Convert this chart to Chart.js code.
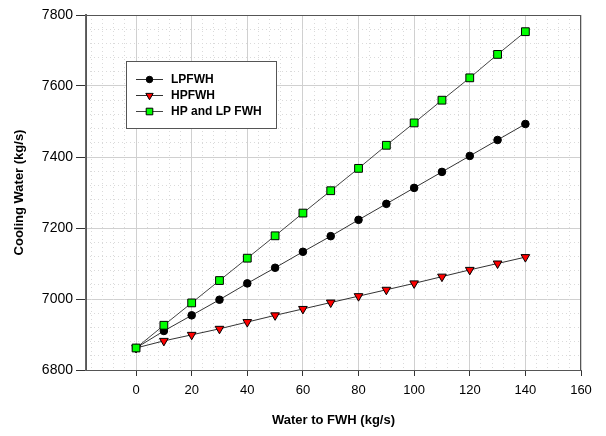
<!DOCTYPE html>
<html>
<head>
<meta charset="utf-8">
<script src="https://cdn.jsdelivr.net/npm/chart.js@4"></script>
<style>
  body { margin: 0; background: #fff; }
  #wrap { width: 606px; height: 436px; }
</style>
</head>
<body>
<div id="wrap"><canvas id="myChart" width="606" height="436"></canvas></div>
<script>
// values
const waterFWH = [0, 10, 20, 30, 40, 50, 60, 70, 80, 90, 100, 110, 120, 130, 140];
const lpfwh   = [6862, 6910, 6954, 6998, 7044, 7088, 7133, 7177, 7223, 7268, 7313, 7358, 7403, 7448, 7493];
const hpfwh   = [6862, 6882, 6899, 6916, 6935, 6954, 6972, 6990, 7008, 7026, 7044, 7063, 7082, 7100, 7118];
const hpAndLp = [6862, 6926, 6989, 7052, 7115, 7178, 7242, 7305, 7368, 7433, 7496, 7560, 7623, 7689, 7753];

const xTicks = [0, 20, 40, 60, 80, 100, 120, 140, 160];
const yTicks = [6800, 7000, 7200, 7400, 7600, 7800];

function toPoints(ys) {
    return waterFWH.map((x, i) => ({ x: x, y: ys[i] }));
}

function minorTicks(from, to, step, major) {
    let out = [];
    for (let v = from; v <= to; v += step) {
        if (v % major !== 0) out.push({ value: v });
    }
    return out;
}

const frame = {
    id: 'frame',
    beforeDatasetsDraw(chart) {
        const a = chart.chartArea;
        const ctx = chart.ctx;
        ctx.save();
        ctx.strokeStyle = '#555';
        ctx.lineWidth = 1;
        ctx.strokeRect(a.left + 0.5, a.top + 0.5, a.right - a.left - 1, a.bottom - a.top);
        ctx.restore();
    }
};

const boxLegend = {
    id: 'boxLegend',
    afterDraw(chart) {
        const ctx = chart.ctx;
        const a = chart.chartArea;
        const bx = a.left + 40, by = a.top + 46, bw = 150, bh = 67;
        ctx.save();
        ctx.fillStyle = '#fff';
        ctx.fillRect(bx, by, bw, bh);
        ctx.strokeStyle = '#555';
        ctx.lineWidth = 1;
        ctx.strokeRect(bx + 0.5, by + 0.5, bw, bh);
        ctx.font = 'bold 12px "Liberation Sans", Arial, sans-serif';
        ctx.textBaseline = 'middle';
        chart.data.datasets.forEach((ds, i) => {
            const y = by + 18 + i * 16;
            ctx.strokeStyle = ds.borderColor;
            ctx.lineWidth = 1;
            ctx.beginPath();
            ctx.moveTo(bx + 10, y + 0.5);
            ctx.lineTo(bx + 37, y + 0.5);
            ctx.stroke();
            ctx.fillStyle = ds.pointBackgroundColor;
            ctx.strokeStyle = ds.pointBorderColor;
            Chart.helpers.drawPoint(ctx, {
                pointStyle: ds.pointStyle,
                rotation: ds.pointRotation || 0,
                radius: ds.pointRadius * 0.85,
                borderWidth: 1
            }, bx + 23.5, y + 0.5);
            ctx.fillStyle = '#000';
            ctx.fillText(ds.label, bx + 45, y + 1);
        });
        ctx.restore();
    }
};

document.addEventListener('DOMContentLoaded', function() {
    const ctx = document.getElementById('myChart').getContext('2d');

    new Chart(ctx, {
        type: 'line',
        data: {
            datasets: [
                {
                    label: 'LPFWH',
                    data: toPoints(lpfwh),
                    borderColor: '#333',
                    borderWidth: 1,
                    pointStyle: 'circle',
                    pointRadius: 3.8,
                    pointBackgroundColor: '#000',
                    pointBorderColor: '#000',
                    pointBorderWidth: 1,
                    order: 2
                },
                {
                    label: 'HPFWH',
                    data: toPoints(hpfwh),
                    borderColor: '#333',
                    borderWidth: 1,
                    pointStyle: 'triangle',
                    pointRotation: 180,
                    pointRadius: 5,
                    pointBackgroundColor: '#ff0000',
                    pointBorderColor: '#000',
                    pointBorderWidth: 1,
                    order: 1
                },
                {
                    label: 'HP and LP FWH',
                    data: toPoints(hpAndLp),
                    borderColor: '#444',
                    borderWidth: 1,
                    pointStyle: 'rect',
                    pointRadius: 5.5,
                    pointBackgroundColor: '#00ff00',
                    pointBorderColor: '#000',
                    pointBorderWidth: 1,
                    order: 0
                }
            ]
        },
        options: {
            responsive: false,
            animation: false,
            layout: { padding: { left: 0, top: 15, right: 25, bottom: 0 } },
            plugins: {
                legend: { display: false },
                tooltip: { enabled: false }
            },
            scales: {
                x: {
                    type: 'linear',
                    position: 'bottom',
                    min: -18,
                    max: 160,
                    afterBuildTicks: s => { s.ticks = xTicks.map(v => ({ value: v })); },
                    afterFit: s => { s.height = 66; },
                    grid: { color: '#d0d0d0', lineWidth: 1, tickLength: 6, tickColor: '#333' },
                    border: { display: true, color: '#555', width: 1 },
                    ticks: {
                        color: '#000',
                        padding: 7,
                        callback: v => String(v),
                        font: { family: '"Liberation Sans", Arial, sans-serif', size: 13 }
                    },
                    title: {
                        display: true,
                        text: 'Water to FWH (kg/s)',
                        color: '#000',
                        padding: { top: 0, bottom: 8 },
                        font: { family: '"Liberation Sans", Arial, sans-serif', size: 13, weight: 'bold' }
                    }
                },
                y: {
                    type: 'linear',
                    position: 'left',
                    min: 6800,
                    max: 7800,
                    afterBuildTicks: s => { s.ticks = yTicks.map(v => ({ value: v })); },
                    afterFit: s => { s.width = 86; },
                    grid: { color: '#d0d0d0', lineWidth: 1, tickLength: 10, tickColor: '#333' },
                    border: { display: true, color: '#666', width: 2 },
                    ticks: {
                        color: '#000',
                        padding: 3,
                        callback: v => String(v),
                        font: { family: '"Liberation Sans", Arial, sans-serif', size: 14 }
                    },
                    title: {
                        display: true,
                        text: 'Cooling Water (kg/s)',
                        color: '#000',
                        padding: { top: 12, bottom: 0 },
                        font: { family: '"Liberation Sans", Arial, sans-serif', size: 13, weight: 'bold' }
                    }
                },
                xMinor: {
                    type: 'linear',
                    position: 'bottom',
                    min: -18,
                    max: 160,
                    afterBuildTicks: s => { s.ticks = minorTicks(-16, 160, 4, 20); },
                    afterFit: s => { s.height = 0; },
                    grid: { color: '#dadada', lineWidth: 1, drawTicks: false },
                    border: { display: false, dash: [1, 3] },
                    ticks: { display: false }
                },
                yMinor: {
                    type: 'linear',
                    position: 'left',
                    min: 6800,
                    max: 7800,
                    afterBuildTicks: s => { s.ticks = minorTicks(6800, 7800, 40, 200); },
                    afterFit: s => { s.width = 0; },
                    grid: { color: '#dadada', lineWidth: 1, drawTicks: false },
                    border: { display: false, dash: [1, 3] },
                    ticks: { display: false }
                }
            }
        },
        plugins: [frame, boxLegend]
    });
});
</script>
</body>
</html>
